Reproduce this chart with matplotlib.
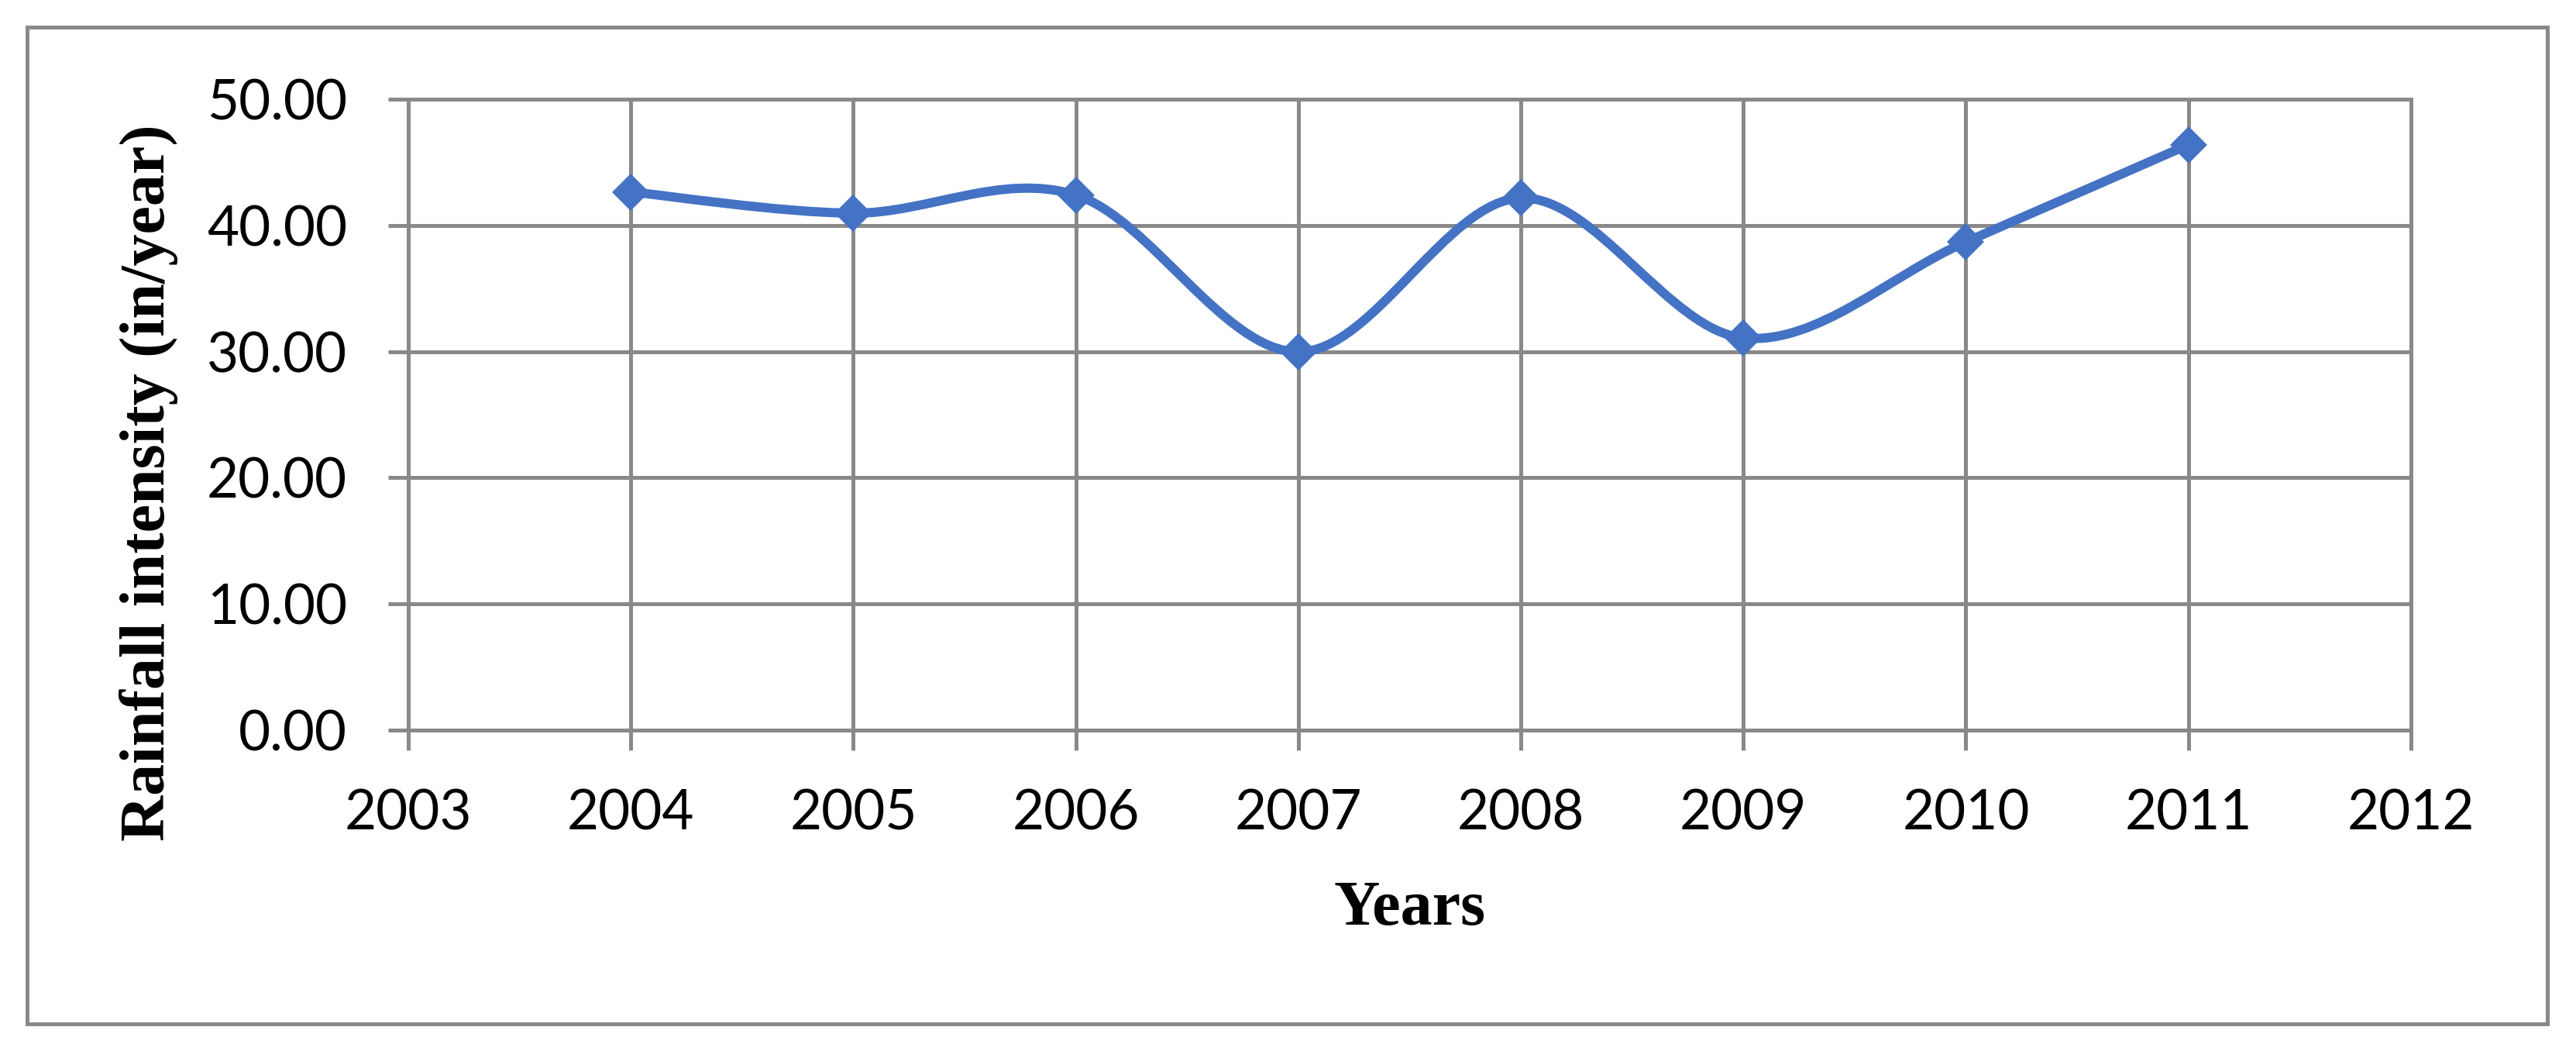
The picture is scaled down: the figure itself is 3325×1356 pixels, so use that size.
import matplotlib
matplotlib.use("Agg")
import matplotlib.pyplot as plt
from matplotlib.path import Path
from matplotlib.patches import PathPatch, Rectangle

years = [2004, 2005, 2006, 2007, 2008, 2009, 2010, 2011]
rain = [42.65, 40.97, 42.40, 29.97, 42.17, 31.08, 38.69, 46.39]
xticks = [2003, 2004, 2005, 2006, 2007, 2008, 2009, 2010, 2011, 2012]
yticks = [0, 10, 20, 30, 40, 50]

blue = "#4472C4"
grey = "#898989"

fig = plt.figure(figsize=(33.25, 13.56), dpi=100)
ax = fig.add_axes([0.1585, 0.3053, 0.7774, 0.6003])

# smooth line like Excel: bezier segments with catmull-rom control points
pts = list(zip(years, rain))
verts = [pts[0]]
codes = [Path.MOVETO]
for i in range(len(pts) - 1):
    p0 = pts[i - 1] if i > 0 else pts[i]
    p1 = pts[i]
    p2 = pts[i + 1]
    p3 = pts[i + 2] if i + 2 < len(pts) else pts[i + 1]
    c1 = (p1[0] + (p2[0] - p0[0]) / 6, p1[1] + (p2[1] - p0[1]) / 6)
    c2 = (p2[0] - (p3[0] - p1[0]) / 6, p2[1] - (p3[1] - p1[1]) / 6)
    verts += [c1, c2, p2]
    codes += [Path.CURVE4] * 3
ax.add_patch(PathPatch(Path(verts, codes), facecolor="none", edgecolor=blue,
                       lw=8.6, capstyle="round", joinstyle="round", zorder=3))
ax.plot(years, rain, linestyle="none", marker="D", ms=24, mew=0, color=blue, zorder=4)

ax.set_xlim(2003, 2012)
ax.set_ylim(0, 50)
ax.set_xticks(xticks)
ax.set_yticks(yticks)
ax.set_yticklabels(["%.2f" % v for v in yticks])
ax.grid(True, color=grey, lw=3.6)
ax.set_axisbelow(True)
for s in ax.spines.values():
    s.set_color(grey)
    s.set_linewidth(3.6)
ax.tick_params(axis="x", length=18.7, width=3.6, color=grey, pad=36,
               labelsize=51, labelfontfamily="Lato")
ax.tick_params(axis="y", length=19, width=3.6, color=grey, pad=38,
               labelsize=51, labelfontfamily="Lato")

fig.text(1820 / 3325, 1 - 1174 / 1356, "Years", ha="center", va="center",
         fontsize=59, fontweight="bold", family="Liberation Serif")
fig.text(192 / 3325, 1 - 623 / 1356, "Rainfall intensity (in/year)", rotation=90,
         ha="center", va="center", fontsize=59, fontweight="bold",
         family="Liberation Serif")

fig.patches.append(Rectangle((34.5 / 3325, 35 / 1356), 3253.5 / 3325, 1286 / 1356,
                             transform=fig.transFigure, fill=False,
                             edgecolor=grey, lw=3.6))

plt.savefig("out.png", dpi=100)
